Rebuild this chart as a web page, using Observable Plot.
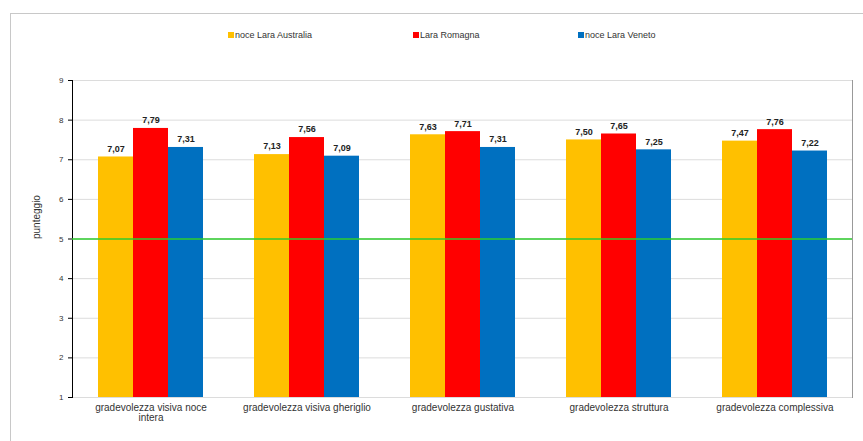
<!DOCTYPE html>
<html>
<head>
<meta charset="utf-8">
<script src="https://cdn.jsdelivr.net/npm/d3@7"></script>
<script src="https://cdn.jsdelivr.net/npm/@observablehq/plot@0.6"></script>
<style>
  html, body { margin: 0; padding: 0; background: #fff; }
  #wrap { position: relative; width: 863px; height: 441px; overflow: hidden; font-family: "Liberation Sans", Arial, sans-serif; }
  #border { position: absolute; left: 10px; top: 13px; width: 870px; height: 440px; border: 1px solid #c8c8c8; box-sizing: border-box; }
  .layer { position: absolute; left: 0; top: 0; }
  .layer svg { background: transparent !important; }
  #legend { position: absolute; top: 30px; left: 0; width: 863px; height: 14px; font-size: 9px; color: #333; }
  #legend .item { position: absolute; display: flex; align-items: center; white-space: nowrap; }
  #legend .sw { width: 6px; height: 6px; margin-right: 1px; }
</style>
</head>
<body>
<div id="wrap">
  <div id="border"></div>
  <div id="legend"></div>
  <div id="layerA" class="layer"></div>
  <div id="layerB" class="layer"></div>
  <div id="layerC" class="layer"></div>
</div>
<script>
// ---- data ----
const categories = [
  "gradevolezza visiva noce intera",
  "gradevolezza visiva gheriglio",
  "gradevolezza gustativa",
  "gradevolezza struttura",
  "gradevolezza complessiva"
];
const categoryLabels = [
  "gradevolezza visiva noce\nintera",
  "gradevolezza visiva gheriglio",
  "gradevolezza gustativa",
  "gradevolezza struttura",
  "gradevolezza complessiva"
];
const series = ["noce Lara Australia", "Lara Romagna", "noce Lara Veneto"];
const australia = [7.07, 7.13, 7.63, 7.50, 7.47];
const romagna   = [7.79, 7.56, 7.71, 7.65, 7.76];
const veneto    = [7.31, 7.09, 7.31, 7.25, 7.22];
const yDomain = [1, 9];
const yTicks = [1, 2, 3, 4, 5, 6, 7, 8, 9];
const reference = [5];
const yLabel = "punteggio";

const colors = ["#FFC000", "#FF0000", "#0070C0"];

const seriesValues = [australia, romagna, veneto];
const data = [];
categories.forEach((c, i) => {
  series.forEach((s, j) => data.push({cat: c, series: s, value: seriesValues[j][i]}));
});
const labelOf = new Map(categories.map((c, i) => [c, categoryLabels[i]]));
const fmt = v => d3.format(".2f")(v).replace(".", ",");

const W = 863, H = 441;
const M = {marginTop: 80, marginBottom: 44, marginLeft: 72, marginRight: 11};
const font = "Liberation Sans, Arial, sans-serif";

// Layer A: grid, y axis
const A = Plot.plot({
  width: W, height: H, ...M,
  style: {fontFamily: font, background: "transparent"},
  y: {domain: yDomain},
  marks: [
    Plot.gridY(yTicks, {stroke: "#dcdcdc", strokeOpacity: 1}),
    Plot.frame({anchor: "right", stroke: "#999"}),
    Plot.frame({anchor: "left", stroke: "#000"}),
    Plot.axisY(yTicks, {tickSize: 4, fontSize: 8, tickPadding: 5, label: null, fill: "#333"}),
    Plot.text([yLabel], {frameAnchor: "left", rotate: -90, dx: -36, fontSize: 10, fill: "#333"})
  ]
});
document.getElementById("layerA").appendChild(A);

// Layer B: bars
const B = Plot.plot({
  width: W, height: H, ...M,
  style: {fontFamily: font, background: "transparent"},
  fx: {domain: categories, paddingInner: 0.33, paddingOuter: 0.165, label: null, axis: null},
  x: {domain: series, padding: 0, axis: null},
  y: {domain: yDomain, axis: null},
  color: {domain: series, range: colors},
  marks: [
    Plot.barY(data, {fx: "cat", x: "series", y1: yDomain[0], y2: "value", fill: "series"}),
    Plot.text(data, {fx: "cat", x: "series", y: "value", text: d => fmt(d.value),
      dy: -8, fontSize: 9, fontWeight: "bold", fill: "#222"}),
    Plot.axisFx({anchor: "bottom", tickSize: 0, tickPadding: 6, fontSize: 10, fill: "#333",
      tickFormat: c => labelOf.get(c), label: null})
  ]
});
document.getElementById("layerB").appendChild(B);

// Layer C: reference line
const C = Plot.plot({
  width: W, height: H, ...M,
  style: {background: "transparent"},
  y: {domain: yDomain, axis: null},
  marks: [Plot.ruleY(reference, {stroke: "#2ecc2e", strokeWidth: 1.5})]
});
document.getElementById("layerC").appendChild(C);

// Legend
const legendLeft = [228, 413, 578];
const legend = document.getElementById("legend");
series.forEach((s, i) => {
  const it = document.createElement("div");
  it.className = "item";
  it.style.left = legendLeft[i] + "px";
  it.innerHTML = `<span class="sw" style="background:${colors[i]}"></span><span>${s}</span>`;
  legend.appendChild(it);
});
</script>
</body>
</html>
